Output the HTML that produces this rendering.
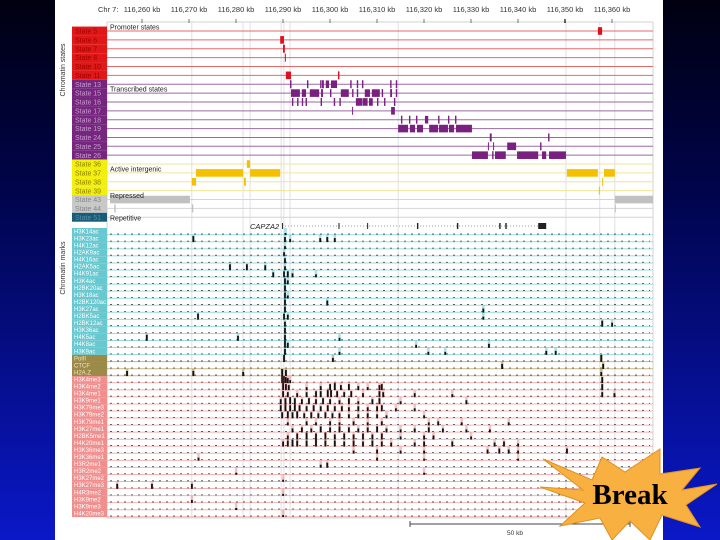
<!DOCTYPE html>
<html><head><meta charset="utf-8">
<style>
html,body{margin:0;padding:0;width:720px;height:540px;overflow:hidden;}
svg{display:block;font-family:"Liberation Sans",sans-serif;}
</style></head>
<body>
<svg id="chart" width="720" height="540" viewBox="0 0 720 540" xmlns="http://www.w3.org/2000/svg">
<defs>
<linearGradient id="bg" x1="0" y1="0" x2="0" y2="1">
<stop offset="0" stop-color="#000010"/><stop offset="0.35" stop-color="#00044a"/><stop offset="1" stop-color="#0a18c8"/>
</linearGradient>
</defs>
<rect x="0" y="0" width="720" height="540" fill="url(#bg)"/>
<rect x="55" y="0" width="608" height="540" fill="#ffffff"/>
<g id="layer"></g>
</svg>
<script>
// ---- data ----
const axisStartKb = 116260;
const tickLabels = ["116,260 kb","116,270 kb","116,280 kb","116,290 kb","116,300 kb","116,310 kb","116,320 kb","116,330 kb","116,340 kb","116,350 kb","116,360 kb"];
const tickKb = [0,10,20,30,40,50,60,70,80,90,100];
const stateNames = ["State 5","State 6","State 7","State 8","State 10","State 11","State 13","State 15","State 16","State 17","State 18","State 19","State 24","State 25","State 26","State 36","State 37","State 38","State 39","State 43","State 44","State 51"];
const stateGroup = [0,0,0,0,0,0,1,1,1,1,1,1,1,1,1,2,2,2,2,3,3,4];
// segments per state row, [start kb offset, end kb offset]
const stateSegments = [
 [[97.0,97.9]],
 [[29.4,30.2]],
 [[30.0,30.4]],
 [[30.4,30.6]],
 [],
 [[30.6,31.7],[41.7,42.0]],
 [[31.5,31.8],[35.1,35.4],[37.9,38.2],[38.3,38.7],[39.1,39.8],[40.2,41.5],[44.3,44.6],[45.7,46.0],[46.8,47.1],[52.8,53.1],[54.0,54.3]],
 [[31.7,33.6],[34.0,34.9],[35.7,37.7],[38.1,38.5],[40.0,40.3],[42.3,44.0],[44.7,45.0],[45.7,46.0],[47.4,48.5],[48.9,50.6],[51.0,51.3],[52.8,53.2],[54.0,54.3]],
 [[31.9,32.2],[33.0,33.3],[34.0,34.3],[34.8,35.1],[38.0,38.3],[40.8,41.1],[42.0,42.3],[45.5,46.8],[46.9,48.0],[48.3,49.1],[50.0,50.3],[51.5,51.8],[53.6,53.9]],
 [[44.7,44.9],[53.0,53.8]],
 [[55.1,55.4],[56.8,57.1],[58.3,58.6],[60.2,60.9],[63.0,63.3],[65.1,65.4],[66.6,66.9]],
 [[54.5,56.6],[57.0,58.1],[58.5,59.8],[61.1,63.0],[63.2,65.1],[65.3,66.4],[66.8,70.2]],
 [[74.0,74.4],[86.4,86.7]],
 [[73.6,73.8],[74.7,74.9],[77.7,79.6],[84.7,85.0]],
 [[70.2,73.6],[74.5,74.8],[75.1,77.4],[79.8,84.3],[85.1,86.0],[86.6,90.2]],
 [[22.3,23.0]],
 [[11.5,21.5],[23.0,29.4],[90.4,97.0],[98.3,100.6]],
 [[10.6,11.5],[21.7,22.1],[97.9,98.1]],
 [[97.2,97.4]],
 [[-6.8,10.2],[100.6,108.7]],
 [[-5.9,-5.6],[10.6,10.9],[100.6,100.8]],
 []
];
const markNames = ["H3K14ac","H3K23ac","H4K12ac","H2AK9ac","H4K16ac","H2AK5ac","H4K91ac","H3K4ac","H2BK20ac","H3K18ac","H2BK120ac","H3K27ac","H2BK5ac","H2BK12ac","H3K36ac","H4K5ac","H4K8ac","H3K9ac","PolII","CTCF","H2A.Z","H3K4me3","H3K4me2","H3K4me1","H3K9me1","H3K79me3","H3K79me2","H3K79me1","H3K27me1","H2BK5me1","H4K20me1","H3K36me3","H3K36me1","H3R2me1","H3R2me2","H3K27me2","H3K27me3","H4R3me2","H3K9me2","H3K9me3","H4K20me3"];
const markGroup = [0,0,0,0,0,0,0,0,0,0,0,0,0,0,0,0,0,0,1,1,1,2,2,2,2,2,2,2,2,2,2,2,2,2,2,2,2,2,2,2,2];
// peaks per mark: [kb offset, signal height]
const markPeaks = [
 [[30.5,2]],
 [[10.9,6],[30.4,5],[31.5,3],[37.9,4],[39.4,5],[41.0,4]],
 [[30.4,3]],
 [[30.2,4]],
 [[30.4,5]],
 [[18.7,6],[22.3,6],[26.2,5],[30.4,4]],
 [[27.9,5],[30.2,6],[31.0,6],[32.0,4],[37.0,3]],
 [[30.4,6],[31.0,4]],
 [[30.4,6]],
 [[30.4,6],[31.0,3]],
 [[30.4,6],[39.4,5]],
 [[30.4,6],[72.6,4]],
 [[11.9,6],[30.2,6],[31.0,5],[72.6,3]],
 [[30.4,5],[97.9,6],[100.0,4]],
 [[30.4,6]],
 [[1.0,6],[20.4,5],[30.4,6],[42.0,3]],
 [[30.4,7],[31.0,5],[58.3,3],[73.8,4]],
 [[30.4,6],[42.0,3],[60.9,3],[64.5,3],[86.0,4],[88.0,4]],
 [[30.2,7],[40.6,4],[97.7,7]],
 [[76.6,5],[98.1,5]],
 [[-3.2,5],[10.9,5],[21.5,4],[29.8,7],[30.6,6],[97.7,4]],
 [[29.8,7],[30.2,7],[30.6,6],[31.0,5],[31.5,3],[97.9,6]],
 [[30.0,7],[30.6,6],[31.2,5],[35.0,3],[38.0,4],[40.0,6],[41.0,7],[42.3,5],[44.0,6],[46.0,4],[48.0,3],[50.5,5],[51.0,6],[97.9,6]],
 [[30.0,6],[31.0,5],[33.0,4],[35.0,5],[37.0,6],[38.0,6],[39.5,7],[40.2,7],[41.5,6],[43.0,5],[44.5,6],[47.0,4],[50.5,6],[51.3,5],[58.0,4],[66.0,3],[97.9,5],[100.5,4]],
 [[29.5,5],[30.5,6],[31.5,7],[32.5,6],[34.0,5],[35.5,6],[37.0,5],[38.5,6],[40.0,5],[42.0,4],[44.0,6],[46.0,3],[49.0,5],[50.5,6],[55.0,3],[69.0,4]],
 [[29.5,6],[30.5,7],[31.5,6],[32.5,7],[33.5,6],[35.0,5],[36.5,6],[38.0,5],[39.5,6],[41.0,5],[42.5,5],[44.0,4],[46.0,5],[48.0,4],[50.0,5],[51.0,6],[54.0,3],[58.0,3]],
 [[29.8,6],[31.0,7],[32.0,6],[33.0,7],[34.5,5],[36.0,6],[37.5,5],[39.0,6],[40.5,5],[42.0,5],[44.0,4],[46.0,4],[48.0,5],[50.0,4],[52.0,3],[60.0,3]],
 [[31.0,3],[35.0,4],[37.0,3],[40.0,4],[42.0,3],[45.0,4],[48.0,3],[51.0,4],[61.0,3],[63.0,4],[68.0,3],[78.0,3]],
 [[32.0,4],[34.0,5],[36.0,4],[38.0,6],[40.0,5],[42.0,6],[44.0,5],[46.0,4],[48.0,5],[50.0,6],[52.0,4],[55.0,3],[58.0,4],[61.0,5],[64.0,4],[69.0,3],[74.0,3]],
 [[31.0,4],[33.0,6],[35.0,7],[37.0,6],[39.0,7],[41.0,5],[43.0,6],[45.0,5],[47.0,6],[49.0,5],[51.0,6],[55.0,3],[60.0,4],[62.0,4],[70.0,3]],
 [[30.0,5],[31.0,6],[32.0,7],[33.0,6],[35.0,6],[37.0,7],[39.0,6],[41.0,6],[43.0,5],[45.0,6],[47.0,5],[49.0,6],[51.0,5],[53.0,4],[58.0,4],[60.0,5],[66.0,5],[75.0,4],[77.0,5],[80.0,3]],
 [[45.0,3],[50.0,4],[55.0,3],[60.0,3],[73.5,4],[76.0,5],[78.0,4],[80.0,3],[90.4,5]],
 [[12.0,3],[50.0,3],[60.0,2],[80.0,2]],
 [[39.4,5],[38.0,3]],
 [[20.0,2],[60.0,2]],
 [[30.0,2]],
 [[-5.3,5],[2.1,5],[10.6,5]],
 [[30.0,2]],
 [[10.6,3]],
 [[20.0,2]],
 [[30.0,2]]
];
const sectionLabels = ["Promoter states","Transcribed states","Active intergenic","Repressed","Repetitive"];
const sectionRows = [0,7,16,19,21];
const geneExons = [[29.8,30.0],[41.8,42.0],[47.9,48.1],[58.5,58.8],[67.0,67.3],[76.0,76.3],[77.3,77.6],[84.3,86.0]];
const geneSpan = [29.8,86.0];
const vGuides = [10.6,21.5,23.0,29.6,30.2,31.5,54.5,90.2,97.4,100.6];

// ---- drawing ----
const NS="http://www.w3.org/2000/svg";
const layer=document.getElementById('layer');
const PX0=142, PXKB=4.7, PL=107, PR=653;
const xs = kb => PX0 + kb*PXKB;
function mk(tag, attrs, parent){const e=document.createElementNS(NS,tag);for(const k in attrs)e.setAttribute(k,attrs[k]);(parent||layer).appendChild(e);return e;}
const clamp=x=>Math.max(PL,Math.min(PR,x));

const stateFill=["#e01818","#76267e","#f2ee10","#c8c8c8","#175c78"];
const stateText=["#a00000","#c49ccc","#8a8400","#888888","#5a8ea0"];
const stateLine=["#e46a6a","#9a6aa2","#f2e690","#d4d4d4","#d4d4d4"];
const stateMark=["#dd1020","#7a2080","#f5c000","#c0c0c0","#175c78"];
const markFill=["#68c8d0","#9c8a48","#f08e8e"];
const markLine=["#98dadf","#c4b584","#f0b4b4"];
const SY0=31, SP=8.87;
const MY0=228, MP=7.05;

// frame
mk('rect',{x:PL,y:22,width:PR-PL,height:496,fill:'none',stroke:'#c8c8c8','stroke-width':0.8});
// guides
vGuides.forEach(v=>{const g=mk('line',{x1:xs(v),x2:xs(v),y1:22,y2:518,stroke:'#d8d8e0','stroke-width':0.8});

});

// axis
const ch=mk('text',{x:98,y:12,'font-size':7.5,fill:'#333'});ch.textContent='Chr 7:';


tickKb.forEach((t,i)=>{
 const x=xs(t);
 const tk=mk('line',{x1:x,x2:x,y1:19,y2:23,stroke:i===9?'#000':'#555','stroke-width':i===9?1.2:0.8});
 
 
 const tl=mk('text',{x:x,y:12,'font-size':7.5,fill:'#333','text-anchor':'middle'});tl.textContent=tickLabels[i];
 
 
});

// state rows
stateNames.forEach((n,i)=>{
 const y=SY0+i*SP, g=stateGroup[i];
 const c=mk('rect',{x:72,y:y-SP/2,width:35,height:SP,fill:stateFill[g]});
 
 
 const t=mk('text',{x:75,y:y+2.6,'font-size':7,fill:stateText[g]});t.textContent=n;
 
 
 const l=mk('line',{x1:PL,x2:PR,y1:y,y2:y,stroke:stateLine[g],'stroke-width':1});
 
 
 stateSegments[i].forEach(s=>{
  const x1=clamp(xs(s[0])),x2=clamp(xs(s[1]));
  const thin=(s[1]-s[0])<0.5;
  const r=mk('rect',{x:x1,y:y-(thin?4:3.8),width:Math.max(1,x2-x1),height:thin?8:7.6,fill:stateMark[g]});
  
  
 });
});
sectionLabels.forEach((s,i)=>{
 const t=mk('text',{x:110,y:SY0+sectionRows[i]*SP+(i===4?3:-1.5),'font-size':7,fill:'#222'});t.textContent=s;
 
 
});

// gene
const gy=226;
const gl=mk('line',{x1:xs(geneSpan[0]),x2:xs(geneSpan[1]),y1:gy,y2:gy,stroke:'#777','stroke-width':0.8,'stroke-dasharray':'1 2'});


geneExons.forEach(e=>{const r=mk('rect',{x:xs(e[0]),y:gy-3,width:Math.max(1,(e[1]-e[0])*PXKB),height:6,fill:'#222'});

});
const gt=mk('text',{x:250,y:229,'font-size':7.5,'font-style':'italic',fill:'#222'});gt.textContent='CAPZA2';



// marks
markNames.forEach((n,i)=>{
 const top=MY0+i*MP, base=top+MP, g=markGroup[i];
 const c=mk('rect',{x:72,y:top,width:35,height:MP,fill:markFill[g]});
 
 
 const t=mk('text',{x:74,y:top+5.4,'font-size':6,fill:g===1?'#f0e8c0':'#ffffff'});t.textContent=n;
 
 
 const l=mk('line',{x1:PL,x2:PR,y1:base-0.3,y2:base-0.3,stroke:markLine[g],'stroke-width':1});
 
 
 const d=mk('line',{x1:PL+3,x2:PR-3,y1:base-1,y2:base-1,stroke:'#444','stroke-width':0.8,'stroke-dasharray':'2 5'});
 
 
 markPeaks[i].forEach(p=>{
  const x=xs(p[0]), h=p[1]*MP/7;
  const bg=mk('rect',{x:x-1.2,y:top,width:2.6,height:MP,fill:markFill[g],opacity:0.55});
  
  
  const r=mk('rect',{x:x-0.8,y:base-h,width:1.8,height:h,fill:'#111'});
  
  
 });
});

// side titles
const st1=mk('text',{transform:'translate(65,70) rotate(-90)','font-size':7,fill:'#333','text-anchor':'middle'});st1.textContent='Chromatin states';


const st2=mk('text',{transform:'translate(65,268) rotate(-90)','font-size':7,fill:'#333','text-anchor':'middle'});st2.textContent='Chromatin marks';



// scale bar
const sb=mk('path',{d:'M410,521 V527 M410,524 H630 M630,521 V527',stroke:'#444','stroke-width':1,fill:'none'});


const sbt=mk('text',{x:515,y:535,'font-size':6.5,fill:'#333','text-anchor':'middle'});sbt.textContent='50 kb';



// break starburst
const star=mk('polygon',{points:'543,459 592,480 602,457 625,472 660,449 660,474 700,468 682,490 717,484 686,505 700,527 662,515 650,540 630,521 612,540 600,518 560,526 585,503 540,487 583,490',fill:'#f8b040',stroke:'#e09020','stroke-width':1});


const bt=mk('text',{x:630,y:504,'font-size':29,'font-weight':'bold','font-family':'"Liberation Serif",serif',fill:'#000','text-anchor':'middle'});bt.textContent='Break';


</script>
</body></html>
